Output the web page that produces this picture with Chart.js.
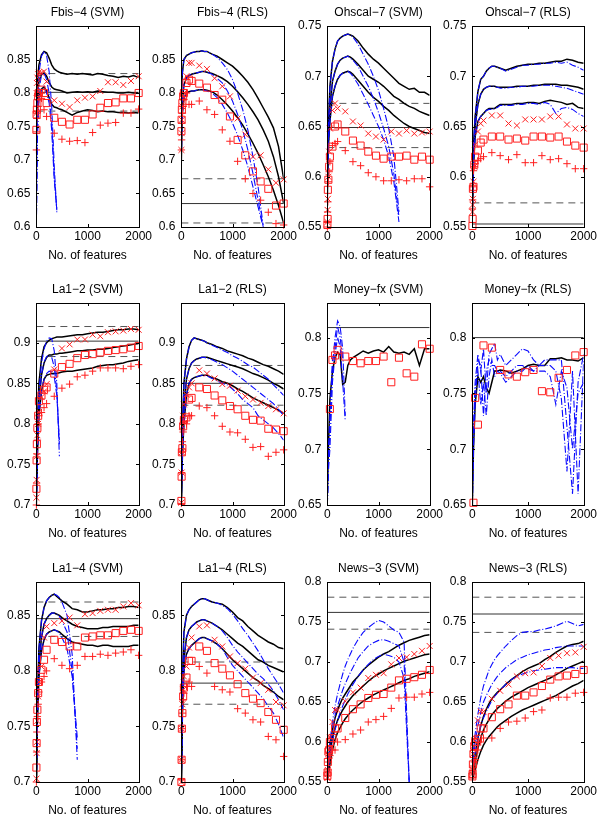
<!DOCTYPE html>
<html>
<head>
<meta charset="utf-8">
<script src="https://cdn.jsdelivr.net/npm/chart.js@4/dist/chart.umd.min.js"></script>
<style>
  html,body{margin:0;padding:0;background:#fff;}
  body{position:relative;width:606px;height:814px;overflow:hidden;}
  canvas{position:absolute;}
</style>
</head>
<body>
<script>
// ---------------- DATA ----------------
const FEATURE_GRID = [0,20,50,100,150,200,250,300,350,400,450,500,600,700,800,900,1000,1100,1200,1300,1400,1500,1600,1700,1800,1900,2000];
const MARKER_X = [1,5,10,20,35,50,100,150,200,350,500,650,800,950,1100,1250,1400,1550,1700,1850,2000];
const X_TICKS = [0,1000,2000];

const fbisTicks   = [0.6,0.65,0.7,0.75,0.8,0.85];
const ohscalTicks = [0.55,0.6,0.65,0.7,0.75];
const la12Ticks   = [0.7,0.75,0.8,0.85,0.9];
const moneyTicks  = [0.65,0.7,0.75,0.8];
const la14Ticks   = [0.7,0.75,0.8,0.85];
const newsTicks   = [0.55,0.6,0.65,0.7,0.75,0.8];

// Fbis-4 (SVM)
const fbisSvmBlack = [
 [0.78,0.815,0.842,0.857,0.862,0.860,0.852,0.842,0.836,0.833,0.831,0.830,0.828,0.829,0.828,0.829,0.828,0.827,0.829,0.828,0.826,0.825,0.823,0.825,0.824,0.826,0.823],
 [0.76,0.795,0.817,0.828,0.830,0.825,0.816,0.809,0.806,0.805,0.804,0.803,0.800,0.801,0.802,0.801,0.802,0.801,0.803,0.802,0.801,0.801,0.800,0.800,0.801,0.800,0.800],
 [0.74,0.775,0.797,0.806,0.809,0.803,0.793,0.783,0.779,0.778,0.776,0.775,0.771,0.767,0.771,0.773,0.775,0.774,0.772,0.773,0.772,0.772,0.771,0.771,0.770,0.771,0.770]];
const fbisSvmBlue = [
 [0.62,0.77,0.83,0.855,0.862,0.856,0.832,0.78,0.69,0.622],
 [0.60,0.75,0.805,0.826,0.83,0.82,0.80,0.755,0.675,0.625],
 [0.60,0.73,0.787,0.805,0.81,0.80,0.785,0.745,0.67,0.628]];
const fbisSvmCross  = [0.77,0.80,0.815,0.823,0.828,0.831,0.830,0.832,0.817,0.789,0.784,0.779,0.789,0.793,0.795,0.803,0.816,0.816,0.812,0.818,0.825];
const fbisSvmSquare = [0.745,0.768,0.775,0.785,0.795,0.80,0.805,0.80,0.785,0.763,0.757,0.753,0.76,0.76,0.768,0.778,0.785,0.786,0.792,0.792,0.80];
const fbisSvmPlus   = [0.715,0.742,0.762,0.772,0.780,0.790,0.792,0.775,0.765,0.740,0.731,0.728,0.729,0.726,0.741,0.752,0.755,0.756,0.770,0.770,0.776];
const fbisSvmRef = [0.829,0.801,0.773];

// Fbis-4 (RLS)
const fbisRlsBlack = [
 [0.80,0.83,0.85,0.856,0.858,0.860,0.861,0.862,0.862,0.863,0.862,0.862,0.858,0.855,0.850,0.845,0.840,0.833,0.825,0.816,0.805,0.792,0.778,0.764,0.748,0.72,0.672],
 [0.75,0.79,0.812,0.822,0.826,0.828,0.829,0.830,0.831,0.832,0.832,0.831,0.829,0.826,0.822,0.817,0.810,0.802,0.793,0.783,0.772,0.76,0.745,0.728,0.705,0.675,0.635],
 [0.70,0.77,0.792,0.80,0.802,0.803,0.803,0.804,0.805,0.805,0.805,0.804,0.802,0.797,0.79,0.782,0.773,0.763,0.752,0.739,0.725,0.71,0.693,0.675,0.655,0.632,0.606]];
const fbisRlsBlue = [
 [0.79,0.83,0.85,0.856,0.858,0.860,0.861,0.862,0.862,0.863,0.862,0.862,0.858,0.853,0.845,0.835,0.82,0.80,0.775,0.745,0.705,0.66,0.602],
 [0.75,0.79,0.812,0.822,0.826,0.828,0.829,0.830,0.831,0.832,0.832,0.831,0.828,0.822,0.815,0.803,0.788,0.768,0.745,0.715,0.68,0.64,0.60],
 [0.70,0.77,0.792,0.80,0.802,0.803,0.803,0.804,0.805,0.805,0.804,0.803,0.80,0.793,0.783,0.77,0.755,0.737,0.715,0.69,0.66,0.63,0.60]];
const fbisRlsCross  = [0.715,0.74,0.76,0.78,0.795,0.80,0.825,0.845,0.845,0.841,0.836,0.822,0.81,0.795,0.762,0.738,0.705,0.707,0.686,0.666,0.671];
const fbisRlsSquare = [0.743,0.76,0.775,0.785,0.795,0.80,0.815,0.82,0.818,0.814,0.808,0.797,0.79,0.765,0.73,0.707,0.683,0.668,0.657,0.632,0.635];
const fbisRlsPlus   = [0.715,0.73,0.755,0.77,0.78,0.79,0.80,0.783,0.783,0.788,0.775,0.768,0.745,0.728,0.698,0.672,0.65,0.64,0.622,0.605,0.603];
const fbisRlsRef = [0.672,0.635,0.606];

// Ohscal-7 (SVM)
const ohscalSvmBlack = [
 [0.60,0.65,0.69,0.715,0.727,0.735,0.738,0.740,0.741,0.742,0.741,0.740,0.735,0.728,0.722,0.717,0.713,0.708,0.703,0.698,0.693,0.690,0.687,0.688,0.684,0.684,0.681],
 [0.59,0.64,0.67,0.695,0.705,0.712,0.716,0.718,0.719,0.72,0.719,0.717,0.712,0.706,0.70,0.697,0.694,0.69,0.685,0.68,0.677,0.673,0.67,0.668,0.665,0.663,0.661],
 [0.58,0.63,0.655,0.68,0.69,0.697,0.701,0.703,0.704,0.705,0.704,0.702,0.696,0.69,0.684,0.679,0.675,0.67,0.666,0.661,0.657,0.653,0.65,0.648,0.646,0.644,0.643]];
const ohscalSvmBlue = [
 [0.60,0.65,0.69,0.715,0.727,0.735,0.738,0.740,0.741,0.742,0.741,0.739,0.732,0.722,0.712,0.70,0.686,0.668,0.648,0.62,0.565],
 [0.59,0.64,0.67,0.695,0.705,0.712,0.716,0.718,0.719,0.72,0.718,0.716,0.71,0.70,0.69,0.678,0.664,0.648,0.63,0.603,0.56],
 [0.58,0.63,0.655,0.68,0.69,0.697,0.701,0.703,0.704,0.705,0.703,0.70,0.692,0.682,0.672,0.661,0.65,0.637,0.62,0.595,0.555]];
const ohscalSvmCross  = [0.555,0.567,0.578,0.60,0.625,0.648,0.666,0.673,0.668,0.665,0.655,0.651,0.643,0.640,0.637,0.645,0.643,0.646,0.643,0.644,0.645];
const ohscalSvmSquare = [0.552,0.558,0.587,0.597,0.61,0.62,0.63,0.65,0.652,0.645,0.636,0.631,0.625,0.621,0.618,0.62,0.62,0.621,0.617,0.62,0.617];
const ohscalSvmPlus   = [0.55,0.565,0.575,0.595,0.605,0.615,0.631,0.633,0.635,0.626,0.615,0.611,0.604,0.60,0.596,0.596,0.597,0.596,0.598,0.598,0.59];
const ohscalSvmRef = [0.673,0.649,0.629];

// Ohscal-7 (RLS)
const ohscalRlsBlack = [
 [0.58,0.63,0.66,0.685,0.697,0.70,0.705,0.708,0.71,0.71,0.709,0.708,0.706,0.708,0.71,0.711,0.712,0.712,0.713,0.713,0.714,0.715,0.715,0.717,0.716,0.714,0.713],
 [0.57,0.62,0.65,0.672,0.682,0.687,0.689,0.69,0.69,0.69,0.689,0.689,0.689,0.689,0.69,0.69,0.69,0.691,0.691,0.692,0.692,0.692,0.691,0.691,0.69,0.689,0.687],
 [0.56,0.61,0.64,0.655,0.66,0.663,0.666,0.668,0.668,0.668,0.67,0.672,0.672,0.672,0.673,0.673,0.674,0.674,0.673,0.675,0.676,0.675,0.674,0.672,0.673,0.669,0.668]];
const ohscalRlsBlue = [
 [0.58,0.63,0.66,0.685,0.697,0.70,0.705,0.708,0.71,0.71,0.709,0.708,0.705,0.707,0.709,0.711,0.711,0.712,0.712,0.713,0.713,0.714,0.713,0.714,0.711,0.709,0.706],
 [0.57,0.62,0.65,0.672,0.682,0.687,0.689,0.69,0.69,0.69,0.689,0.688,0.688,0.689,0.689,0.69,0.69,0.69,0.691,0.691,0.691,0.69,0.689,0.688,0.686,0.684,0.682],
 [0.56,0.61,0.64,0.655,0.66,0.663,0.666,0.667,0.667,0.668,0.669,0.671,0.671,0.671,0.672,0.672,0.673,0.673,0.672,0.674,0.672,0.663,0.668,0.669,0.667,0.663,0.66]];
const ohscalRlsCross  = [0.565,0.572,0.578,0.595,0.61,0.632,0.645,0.653,0.656,0.661,0.661,0.653,0.651,0.657,0.657,0.657,0.66,0.66,0.652,0.648,0.648];
const ohscalRlsSquare = [0.551,0.558,0.588,0.59,0.612,0.62,0.626,0.634,0.637,0.64,0.64,0.637,0.638,0.636,0.64,0.64,0.639,0.64,0.635,0.631,0.629];
const ohscalRlsPlus   = [0.568,0.577,0.59,0.606,0.61,0.613,0.616,0.618,0.62,0.624,0.621,0.617,0.622,0.614,0.614,0.621,0.617,0.618,0.613,0.608,0.608];
const ohscalRlsRef = [0.574,0.553];

// La1-2 (SVM)
const la12SvmBlack = [
 [0.72,0.80,0.85,0.88,0.895,0.90,0.903,0.905,0.906,0.907,0.907,0.907,0.908,0.909,0.91,0.91,0.911,0.912,0.913,0.913,0.914,0.915,0.916,0.916,0.917,0.917,0.916],
 [0.71,0.78,0.83,0.86,0.875,0.882,0.885,0.885,0.886,0.886,0.887,0.887,0.888,0.889,0.89,0.89,0.891,0.891,0.892,0.892,0.893,0.894,0.895,0.896,0.897,0.898,0.899],
 [0.70,0.76,0.81,0.84,0.855,0.86,0.861,0.862,0.862,0.862,0.863,0.864,0.865,0.865,0.866,0.867,0.868,0.869,0.871,0.872,0.873,0.873,0.874,0.875,0.877,0.878,0.879]];
const la12SvmBlue = [
 [0.70,0.78,0.84,0.875,0.892,0.902,0.906,0.905,0.89,0.85,0.76],
 [0.70,0.77,0.825,0.86,0.876,0.883,0.885,0.882,0.87,0.84,0.775],
 [0.70,0.76,0.81,0.84,0.855,0.862,0.865,0.864,0.858,0.835,0.78]];
const la12SvmCross  = [0.709,0.731,0.76,0.786,0.80,0.815,0.833,0.84,0.849,0.867,0.893,0.898,0.904,0.904,0.91,0.908,0.913,0.914,0.915,0.917,0.916];
const la12SvmSquare = [0.72,0.755,0.775,0.795,0.81,0.828,0.835,0.842,0.845,0.862,0.87,0.874,0.881,0.885,0.886,0.888,0.89,0.891,0.892,0.894,0.896];
const la12SvmPlus   = [0.70,0.727,0.763,0.78,0.80,0.81,0.814,0.82,0.825,0.834,0.844,0.849,0.858,0.86,0.865,0.869,0.869,0.869,0.868,0.871,0.873];
const la12SvmRef = [0.92,0.902,0.883];

// La1-2 (RLS)
const la12RlsBlack = [
 [0.71,0.79,0.85,0.88,0.895,0.903,0.906,0.905,0.904,0.903,0.902,0.90,0.898,0.895,0.893,0.89,0.888,0.886,0.884,0.881,0.879,0.876,0.873,0.871,0.868,0.865,0.861],
 [0.71,0.77,0.82,0.855,0.868,0.875,0.878,0.88,0.881,0.882,0.882,0.882,0.88,0.878,0.876,0.874,0.872,0.87,0.868,0.865,0.862,0.86,0.857,0.854,0.85,0.847,0.843],
 [0.70,0.76,0.80,0.835,0.85,0.855,0.857,0.858,0.859,0.86,0.86,0.86,0.857,0.855,0.852,0.85,0.847,0.843,0.84,0.836,0.832,0.829,0.826,0.823,0.82,0.817,0.813]];
const la12RlsBlue = [
 [0.71,0.79,0.85,0.88,0.895,0.903,0.906,0.905,0.904,0.903,0.902,0.90,0.897,0.894,0.891,0.888,0.884,0.881,0.877,0.873,0.87,0.865,0.86,0.855,0.848,0.842,0.835],
 [0.71,0.77,0.82,0.855,0.868,0.875,0.878,0.88,0.881,0.882,0.882,0.881,0.879,0.876,0.873,0.869,0.865,0.86,0.855,0.85,0.845,0.84,0.835,0.83,0.825,0.818,0.81],
 [0.70,0.76,0.80,0.835,0.85,0.855,0.857,0.858,0.859,0.86,0.86,0.859,0.856,0.853,0.85,0.848,0.843,0.837,0.83,0.825,0.82,0.81,0.805,0.80,0.795,0.788,0.78]];
const la12RlsCross  = [0.703,0.74,0.765,0.797,0.81,0.824,0.836,0.845,0.85,0.866,0.862,0.856,0.849,0.847,0.841,0.834,0.83,0.826,0.822,0.818,0.813];
const la12RlsSquare = [0.705,0.735,0.765,0.77,0.797,0.805,0.808,0.83,0.832,0.845,0.843,0.835,0.829,0.822,0.818,0.81,0.805,0.804,0.794,0.793,0.791];
const la12RlsPlus   = [0.702,0.74,0.765,0.778,0.79,0.803,0.80,0.81,0.81,0.822,0.82,0.81,0.797,0.79,0.789,0.781,0.771,0.772,0.76,0.765,0.768];
const la12RlsRef = [0.872,0.85,0.823];

// Money-fx (SVM)
const moneySvmBlack = [
 [0.66,0.70,0.745,0.77,0.782,0.787,0.785,0.758,0.76,0.775,0.78,0.782,0.785,0.788,0.786,0.788,0.789,0.787,0.792,0.787,0.786,0.787,0.785,0.79,0.775,0.79,0.79]];
const moneySvmBlue = [
 [0.65,0.69,0.72,0.775,0.80,0.815,0.81,0.79,0.73],
 [0.65,0.68,0.70,0.76,0.785,0.80,0.792,0.76,0.725],
 [0.65,0.70,0.73,0.78,0.79,0.81,0.80,0.78]];
const moneySvmSquare = [null,null,null,null,null,0.736,0.78,0.784,0.789,0.783,0.779,0.777,0.779,0.779,0.783,0.76,0.782,0.768,0.765,0.794,0.79];
const moneySvmRef = [0.809];

// Money-fx (RLS)
const moneyRlsBlack = [
 [0.65,0.70,0.74,0.765,0.76,0.765,0.755,0.75,0.76,0.77,0.77,0.771,0.77,0.768,0.77,0.772,0.775,0.776,0.775,0.775,0.781,0.781,0.782,0.78,0.78,0.779,0.782]];
const moneyRlsBlue = [
 [0.66,0.72,0.76,0.785,0.77,0.79,0.75,0.785,0.79,0.795,0.78,0.785,0.775,0.78,0.785,0.79,0.788,0.78,0.775,0.78,0.78,0.78,0.78,0.72,0.66,0.76,0.785],
 [0.65,0.70,0.74,0.78,0.775,0.73,0.77,0.78,0.775,0.775,0.77,0.77,0.765,0.77,0.775,0.775,0.772,0.77,0.775,0.775,0.775,0.77,0.745,0.68,0.77,0.66,0.78],
 [0.65,0.71,0.755,0.77,0.74,0.76,0.73,0.765,0.78,0.765,0.77,0.768,0.76,0.765,0.77,0.77,0.775,0.77,0.77,0.77,0.765,0.74,0.77,0.755,0.70,0.75,0.76]];
const moneyRlsSquare = [null,null,null,0.652,null,0.746,0.722,null,0.793,0.791,0.771,0.767,0.765,0.769,0.771,0.752,0.751,0.764,0.771,0.784,0.787];
const moneyRlsRef = [0.80];

// La1-4 (SVM)
const la14SvmBlack = [
 [0.70,0.77,0.82,0.845,0.857,0.863,0.866,0.868,0.869,0.867,0.865,0.863,0.86,0.856,0.855,0.853,0.853,0.854,0.855,0.855,0.856,0.856,0.857,0.857,0.858,0.858,0.857],
 [0.70,0.76,0.805,0.83,0.842,0.847,0.85,0.852,0.852,0.851,0.85,0.848,0.845,0.842,0.84,0.839,0.838,0.838,0.838,0.839,0.839,0.84,0.84,0.84,0.84,0.841,0.841],
 [0.70,0.755,0.795,0.818,0.828,0.833,0.835,0.836,0.837,0.836,0.835,0.833,0.829,0.826,0.825,0.824,0.823,0.823,0.822,0.823,0.823,0.822,0.822,0.822,0.822,0.823,0.823]];
const la14SvmBlue = [
 [0.70,0.77,0.82,0.845,0.857,0.863,0.866,0.868,0.869,0.868,0.866,0.862,0.85,0.815,0.72],
 [0.70,0.76,0.805,0.83,0.842,0.847,0.85,0.852,0.852,0.851,0.849,0.845,0.835,0.80,0.73],
 [0.70,0.755,0.795,0.818,0.828,0.833,0.835,0.836,0.837,0.836,0.834,0.83,0.82,0.795,0.74]];
const la14SvmCross  = [0.703,0.726,0.736,0.755,0.777,0.79,0.804,0.83,0.84,0.843,0.845,0.848,0.841,0.851,0.852,0.854,0.855,0.855,0.858,0.861,0.859];
const la14SvmSquare = [0.713,0.735,0.754,0.765,0.78,0.79,0.801,0.81,0.819,0.828,0.826,0.822,0.822,0.83,0.831,0.832,0.832,0.834,0.836,0.837,0.836];
const la14SvmPlus   = [0.70,0.727,0.745,0.759,0.77,0.781,0.79,0.795,0.80,0.811,0.805,0.802,0.805,0.813,0.813,0.815,0.814,0.816,0.817,0.819,0.814];
const la14SvmRef = [0.862,0.847,0.831];

// La1-4 (RLS)
const la14RlsBlack = [
 [0.70,0.79,0.835,0.85,0.855,0.858,0.86,0.862,0.864,0.865,0.865,0.864,0.862,0.861,0.86,0.857,0.853,0.848,0.845,0.84,0.836,0.832,0.829,0.826,0.824,0.821,0.82],
 [0.70,0.77,0.81,0.83,0.837,0.84,0.842,0.844,0.845,0.846,0.846,0.845,0.843,0.84,0.837,0.833,0.829,0.825,0.822,0.818,0.814,0.81,0.808,0.805,0.803,0.801,0.799],
 [0.70,0.76,0.80,0.815,0.82,0.823,0.825,0.827,0.829,0.83,0.83,0.829,0.827,0.824,0.82,0.815,0.81,0.806,0.802,0.798,0.794,0.791,0.787,0.784,0.781,0.777,0.774]];
const la14RlsBlue = [
 [0.70,0.79,0.835,0.85,0.855,0.858,0.86,0.862,0.864,0.865,0.865,0.864,0.862,0.861,0.859,0.856,0.851,0.845,0.838,0.832,0.825,0.818,0.81,0.802,0.795,0.788,0.78],
 [0.70,0.77,0.81,0.83,0.837,0.84,0.842,0.844,0.845,0.846,0.846,0.845,0.843,0.84,0.836,0.83,0.823,0.817,0.812,0.807,0.802,0.797,0.793,0.788,0.782,0.774,0.765],
 [0.70,0.76,0.80,0.815,0.82,0.823,0.825,0.827,0.829,0.83,0.83,0.829,0.827,0.824,0.82,0.812,0.805,0.80,0.795,0.79,0.785,0.78,0.775,0.768,0.762,0.752,0.74]];
const la14RlsCross  = [0.70,0.72,0.748,0.77,0.783,0.795,0.804,0.821,0.83,0.84,0.841,0.828,0.822,0.813,0.807,0.802,0.794,0.789,0.783,0.772,0.769];
const la14RlsSquare = [0.70,0.72,0.748,0.762,0.777,0.785,0.794,0.809,0.809,0.822,0.818,0.807,0.802,0.796,0.788,0.78,0.775,0.771,0.763,0.756,0.747];
const la14RlsPlus   = [0.702,0.72,0.748,0.762,0.774,0.78,0.786,0.79,0.786,0.804,0.798,0.786,0.783,0.781,0.766,0.762,0.756,0.754,0.741,0.738,0.723];
const la14RlsRef = [0.808,0.789,0.77];

// News-3 (SVM)
const newsSvmBlack = [
 [0.555,0.575,0.595,0.615,0.63,0.64,0.648,0.655,0.66,0.665,0.67,0.675,0.682,0.69,0.696,0.701,0.706,0.71,0.713,0.717,0.721,0.724,0.727,0.729,0.731,0.733,0.734],
 [0.555,0.57,0.585,0.605,0.618,0.627,0.634,0.64,0.645,0.65,0.654,0.658,0.664,0.67,0.676,0.681,0.685,0.689,0.692,0.695,0.698,0.701,0.703,0.705,0.707,0.709,0.71],
 [0.553,0.56,0.572,0.59,0.603,0.612,0.618,0.624,0.629,0.633,0.637,0.64,0.646,0.651,0.655,0.659,0.662,0.665,0.668,0.671,0.674,0.677,0.679,0.682,0.684,0.686,0.688]];
const newsSvmBlue = [
 [0.56,0.58,0.60,0.625,0.645,0.66,0.673,0.685,0.695,0.703,0.71,0.717,0.728,0.737,0.743,0.748,0.752,0.75,0.745,0.74,0.737,0.725,0.55],
 [0.558,0.575,0.59,0.615,0.633,0.645,0.655,0.665,0.673,0.68,0.687,0.693,0.705,0.713,0.72,0.724,0.727,0.728,0.726,0.723,0.72,0.70,0.55],
 [0.555,0.567,0.58,0.60,0.615,0.627,0.637,0.645,0.653,0.66,0.666,0.672,0.682,0.69,0.697,0.703,0.707,0.71,0.708,0.706,0.70,0.68,0.55]];
const newsSvmCross  = [0.555,0.56,0.565,0.585,0.59,0.606,0.625,0.64,0.64,0.651,0.662,0.668,0.68,0.684,0.686,0.697,0.705,0.706,0.71,0.714,0.72];
const newsSvmSquare = [0.558,0.562,0.575,0.588,0.59,0.60,0.605,0.617,0.617,0.63,0.641,0.647,0.655,0.659,0.66,0.668,0.677,0.679,0.681,0.684,0.69];
const newsSvmPlus   = [0.553,0.56,0.565,0.575,0.58,0.583,0.59,0.59,0.60,0.603,0.61,0.615,0.625,0.628,0.632,0.642,0.655,0.656,0.656,0.66,0.662];
const newsSvmRef = [0.781,0.762,0.741];

// News-3 (RLS)
const newsRlsBlack = [
 [0.555,0.57,0.585,0.605,0.62,0.632,0.641,0.648,0.654,0.658,0.662,0.665,0.672,0.678,0.683,0.688,0.692,0.695,0.698,0.703,0.707,0.712,0.716,0.72,0.722,0.723,0.726],
 [0.553,0.563,0.575,0.592,0.605,0.615,0.622,0.628,0.634,0.638,0.642,0.645,0.651,0.656,0.66,0.664,0.668,0.671,0.674,0.677,0.68,0.684,0.688,0.692,0.695,0.698,0.701],
 [0.552,0.558,0.565,0.578,0.588,0.596,0.602,0.607,0.611,0.615,0.619,0.622,0.627,0.632,0.636,0.64,0.643,0.646,0.649,0.652,0.655,0.658,0.662,0.666,0.67,0.673,0.677]];
const newsRlsBlue = [
 [0.56,0.59,0.61,0.635,0.655,0.67,0.68,0.69,0.697,0.703,0.708,0.712,0.72,0.727,0.733,0.737,0.738,0.738,0.74,0.741,0.743,0.745,0.748,0.751,0.748,0.745,0.747],
 [0.56,0.58,0.60,0.62,0.637,0.65,0.658,0.665,0.672,0.677,0.682,0.686,0.693,0.698,0.703,0.706,0.709,0.711,0.713,0.715,0.716,0.718,0.719,0.72,0.72,0.72,0.72],
 [0.555,0.57,0.585,0.605,0.62,0.63,0.638,0.645,0.652,0.657,0.661,0.665,0.672,0.678,0.682,0.685,0.687,0.689,0.69,0.691,0.692,0.693,0.693,0.693,0.693,0.692,0.692]];
const newsRlsCross  = [0.56,0.565,0.585,0.595,0.602,0.605,0.627,0.638,0.638,0.654,0.664,0.672,0.682,0.686,0.687,0.695,0.705,0.708,0.711,0.712,0.719];
const newsRlsSquare = [0.557,0.56,0.572,0.585,0.595,0.60,0.604,0.617,0.617,0.631,0.641,0.647,0.658,0.658,0.662,0.67,0.678,0.682,0.683,0.685,0.69];
const newsRlsPlus   = [0.555,0.56,0.565,0.57,0.575,0.578,0.59,0.60,0.605,0.605,0.617,0.625,0.626,0.63,0.638,0.64,0.655,0.656,0.656,0.661,0.662];
const newsRlsRef = [0.781,0.76,0.737];

// ---------------- LAYOUT / STYLE ----------------
const COLS = [[36,138],[181,283],[327,429],[472,583]];
const ROWS = [[26,227],[303,505],[582,782]];
const FONT = '"Liberation Sans", Arial, Helvetica, sans-serif';
const RED = '#ff1f1f', BLUE = '#0a0aff', BLACK = '#000';

const panels = [
 {title:'Fbis\u22124 (SVM)', c:0, r:0, y:[0.6,0.9], ticks:fbisTicks, black:fbisSvmBlack, blue:fbisSvmBlue, cross:fbisSvmCross, square:fbisSvmSquare, plus:fbisSvmPlus, ref:fbisSvmRef, refDash:[true,false,true]},
 {title:'Fbis\u22124 (RLS)', c:1, r:0, y:[0.6,0.9], ticks:fbisTicks, black:fbisRlsBlack, blue:fbisRlsBlue, cross:fbisRlsCross, square:fbisRlsSquare, plus:fbisRlsPlus, ref:fbisRlsRef, refDash:[true,false,true]},
 {title:'Ohscal\u22127 (SVM)', c:2, r:0, y:[0.55,0.75], ticks:ohscalTicks, black:ohscalSvmBlack, blue:ohscalSvmBlue, cross:ohscalSvmCross, square:ohscalSvmSquare, plus:ohscalSvmPlus, ref:ohscalSvmRef, refDash:[true,false,true]},
 {title:'Ohscal\u22127 (RLS)', c:3, r:0, y:[0.55,0.75], ticks:ohscalTicks, black:ohscalRlsBlack, blue:ohscalRlsBlue, cross:ohscalRlsCross, square:ohscalRlsSquare, plus:ohscalRlsPlus, ref:ohscalRlsRef, refDash:[true,false]},
 {title:'La1\u22122 (SVM)', c:0, r:1, y:[0.7,0.949], ticks:la12Ticks, black:la12SvmBlack, blue:la12SvmBlue, cross:la12SvmCross, square:la12SvmSquare, plus:la12SvmPlus, ref:la12SvmRef, refDash:[true,false,true]},
 {title:'La1\u22122 (RLS)', c:1, r:1, y:[0.7,0.949], ticks:la12Ticks, black:la12RlsBlack, blue:la12RlsBlue, cross:la12RlsCross, square:la12RlsSquare, plus:la12RlsPlus, ref:la12RlsRef, refDash:[true,false,true]},
 {title:'Money\u2212fx (SVM)', c:2, r:1, y:[0.65,0.831], ticks:moneyTicks, black:moneySvmBlack, blue:moneySvmBlue, cross:null, square:moneySvmSquare, plus:null, ref:moneySvmRef, refDash:[false]},
 {title:'Money\u2212fx (RLS)', c:3, r:1, y:[0.65,0.831], ticks:moneyTicks, black:moneyRlsBlack, blue:moneyRlsBlue, cross:null, square:moneyRlsSquare, plus:null, ref:moneyRlsRef, refDash:[false]},
 {title:'La1\u22124 (SVM)', c:0, r:2, y:[0.7,0.88], ticks:la14Ticks, black:la14SvmBlack, blue:la14SvmBlue, cross:la14SvmCross, square:la14SvmSquare, plus:la14SvmPlus, ref:la14SvmRef, refDash:[true,false,true]},
 {title:'La1\u22124 (RLS)', c:1, r:2, y:[0.7,0.88], ticks:la14Ticks, black:la14RlsBlack, blue:la14RlsBlue, cross:la14RlsCross, square:la14RlsSquare, plus:la14RlsPlus, ref:la14RlsRef, refDash:[true,false,true]},
 {title:'News\u22123 (SVM)', c:2, r:2, y:[0.55,0.8], ticks:newsTicks, black:newsSvmBlack, blue:newsSvmBlue, cross:newsSvmCross, square:newsSvmSquare, plus:newsSvmPlus, ref:newsSvmRef, refDash:[true,false,true]},
 {title:'News\u22123 (RLS)', c:3, r:2, y:[0.55,0.8], ticks:newsTicks, black:newsRlsBlack, blue:newsRlsBlue, cross:newsRlsCross, square:newsRlsSquare, plus:newsRlsPlus, ref:newsRlsRef, refDash:[true,false,true]}
];

// ---------------- BUILD ----------------
Chart.defaults.font.family = FONT;
Chart.defaults.font.size = 12;
Chart.defaults.color = '#000';

function pairs(xs, ys){
  const out = [];
  for (let i = 0; i < ys.length && i < xs.length; i++) {
    if (ys[i] !== null && ys[i] !== undefined) out.push({x: xs[i], y: ys[i]});
  }
  return out;
}

const boxPlugin = {
  id: 'panelBox',
  afterDraw(chart, args, opts){
    const {ctx, chartArea, scales} = chart;
    const l = Math.round(chartArea.left), t = Math.round(chartArea.top);
    const r = Math.round(chartArea.right), b = Math.round(chartArea.bottom);
    ctx.save();
    ctx.strokeStyle = '#000';
    ctx.lineWidth = 1;
    ctx.strokeRect(l + 0.5, t + 0.5, r - l, b - t);
    const tl = 3;
    ctx.beginPath();
    scales.x.ticks.forEach(tk => {
      const px = Math.round(scales.x.getPixelForValue(tk.value)) + 0.5;
      ctx.moveTo(px, b); ctx.lineTo(px, b - tl);
      ctx.moveTo(px, t); ctx.lineTo(px, t + tl);
    });
    scales.y.ticks.forEach(tk => {
      const py = Math.round(scales.y.getPixelForValue(tk.value)) + 0.5;
      ctx.moveTo(l, py); ctx.lineTo(l + tl, py);
      ctx.moveTo(r, py); ctx.lineTo(r - tl, py);
    });
    ctx.stroke();
    ctx.fillStyle = '#000';
    ctx.font = '12px ' + FONT;
    ctx.textAlign = 'center';
    ctx.textBaseline = 'middle';
    ctx.fillText(opts.text, (chartArea.left + chartArea.right) / 2, chartArea.top - 13);
    ctx.restore();
  }
};

function markerSet(vals, style, radius){
  return {
    data: pairs(MARKER_X, vals), showLine: false,
    pointStyle: style, pointRadius: radius, pointHoverRadius: radius,
    pointBorderColor: RED, pointBackgroundColor: 'rgba(0,0,0,0)', pointBorderWidth: 1,
    borderColor: RED, clip: false
  };
}

function makeConfig(p){
  const ds = [];
  if (p.cross) ds.push(markerSet(p.cross, 'crossRot', 4.2));
  if (p.square) ds.push(markerSet(p.square, 'rect', 5));
  if (p.plus) ds.push(markerSet(p.plus, 'cross', 3.7));
  p.blue.forEach(v => ds.push({data: pairs(FEATURE_GRID, v), borderColor: BLUE, borderWidth: 1.1, borderDash: [7,2,1,2], pointRadius: 0, tension: 0, fill: false}));
  p.black.forEach(v => ds.push({data: pairs(FEATURE_GRID, v), borderColor: BLACK, borderWidth: 1.5, pointRadius: 0, tension: 0, fill: false}));
  p.ref.forEach((v, i) => ds.push({
    data: [{x: 0, y: v}, {x: 2000, y: v}],
    borderColor: p.refDash[i] ? '#555' : '#333', borderWidth: 1,
    borderDash: p.refDash[i] ? [7,5] : [], pointRadius: 0, fill: false
  }));
  return {
    type: 'line',
    data: {datasets: ds},
    plugins: [boxPlugin],
    options: {
      responsive: false, maintainAspectRatio: false, animation: false, devicePixelRatio: 1, events: [],
      layout: {padding: {top: 26, right: 14, left: 2, bottom: 0}},
      plugins: {legend: {display: false}, tooltip: {enabled: false}, title: {display: false}, panelBox: {text: p.title}},
      scales: {
        x: {
          type: 'linear', min: 0, max: 2000,
          afterBuildTicks: s => { s.ticks = X_TICKS.map(v => ({value: v})); },
          ticks: {padding: 4, maxRotation: 0, autoSkip: false, color: '#000', font: {size: 12, lineHeight: 1}, callback: v => String(v)},
          grid: {display: false, drawTicks: false}, border: {display: false},
          title: {display: true, text: 'No. of features', color: '#000', font: {size: 12, lineHeight: 1}, padding: {top: 3, bottom: 0}}
        },
        y: {
          type: 'linear', min: p.y[0], max: p.y[1],
          afterBuildTicks: s => { s.ticks = p.ticks.map(v => ({value: v})); },
          ticks: {padding: 6, color: '#000', font: {size: 12}, autoSkip: false, callback: v => String(Number(Number(v).toFixed(2)))},
          grid: {display: false, drawTicks: false}, border: {display: false}
        }
      }
    }
  };
}

function build(p){
  const [bl, br] = COLS[p.c], [bt, bb] = ROWS[p.r];
  const bw = br - bl, bh = bb - bt;
  let W = bw + 60, H = bh + 60;
  let canvas = document.createElement('canvas');
  canvas.width = W; canvas.height = H;
  canvas.style.width = W + 'px'; canvas.style.height = H + 'px';
  document.body.appendChild(canvas);
  let chart = new Chart(canvas, makeConfig(p));
  let a = chart.chartArea;
  const dW = bw - (a.right - a.left), dH = bh - (a.bottom - a.top);
  if (Math.abs(dW) > 0.05 || Math.abs(dH) > 0.05) {
    chart.destroy();
    canvas.remove();
    W = Math.round(W + dW); H = Math.round(H + dH);
    canvas = document.createElement('canvas');
    canvas.width = W; canvas.height = H;
    canvas.style.width = W + 'px'; canvas.style.height = H + 'px';
    document.body.appendChild(canvas);
    chart = new Chart(canvas, makeConfig(p));
    a = chart.chartArea;
  }
  canvas.style.left = Math.round(bl - a.left) + 'px';
  canvas.style.top = Math.round(bt - a.top) + 'px';
}

panels.forEach(build);
</script>
</body>
</html>
